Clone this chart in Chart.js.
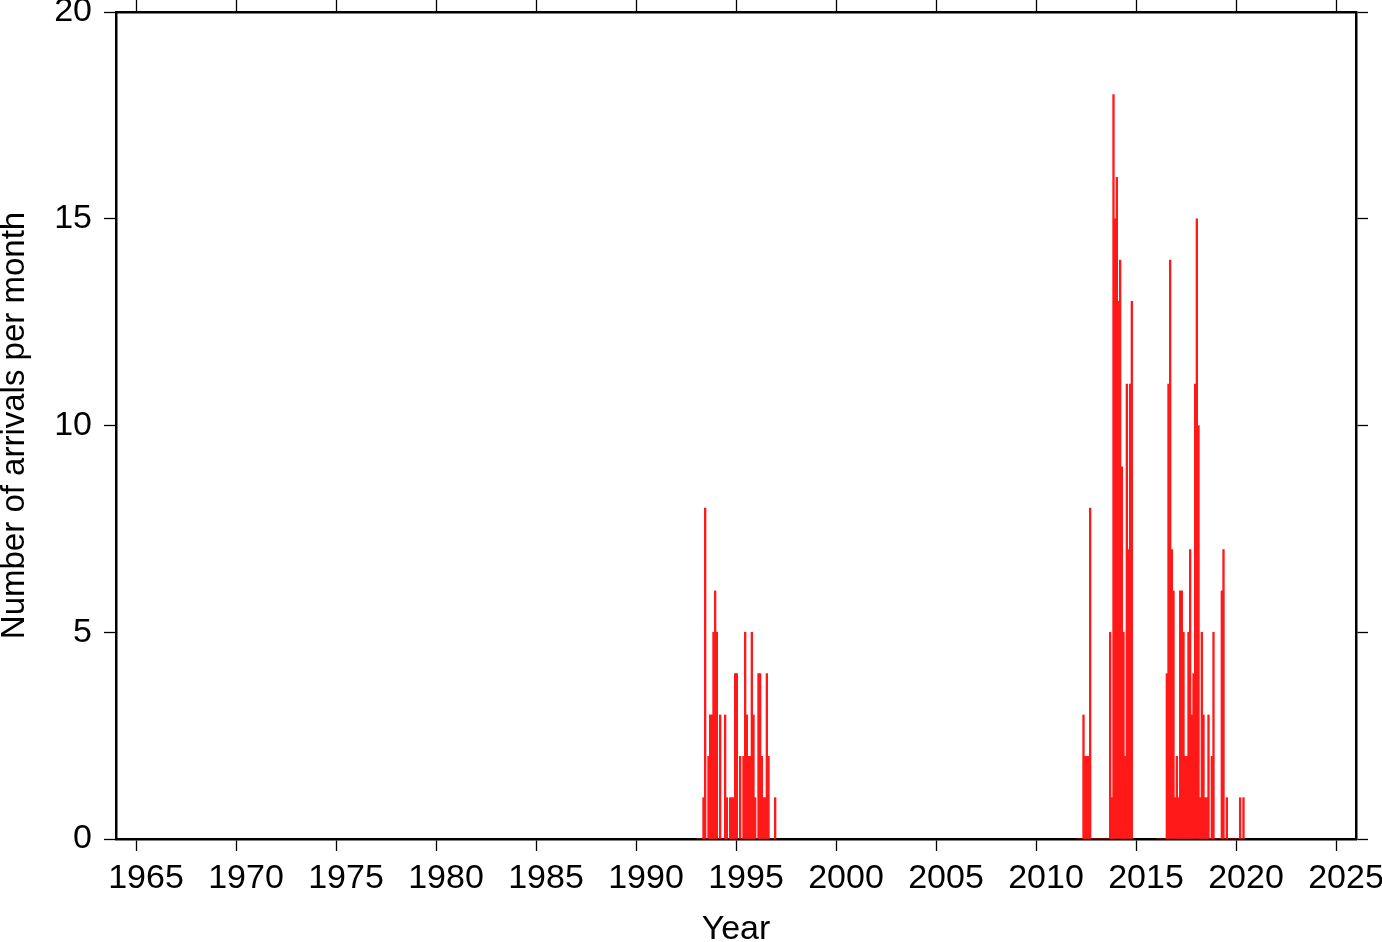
<!DOCTYPE html>
<html>
<head>
<meta charset="utf-8">
<script src="https://cdn.jsdelivr.net/npm/chart.js@4.4.1/dist/chart.umd.min.js"></script>
<style>
  html, body { margin: 0; padding: 0; background: #fff; }
  canvas { display: block; }
</style>
</head>
<body>
<canvas id="arrivalsChart" width="1382" height="942"></canvas>
<script>
// monthly arrival counts, each burst starts in January of its start year
const burst1Start = 1993;
const burst1Counts = [0, 0, 0, 0, 1, 8, 0, 2, 3, 3, 5, 6,
                      5, 0, 3, 0, 0, 3, 1, 0, 1, 1, 1, 4,
                      4, 0, 2, 0, 2, 5, 3, 2, 2, 5, 3, 1,
                      0, 4, 4, 2, 1, 1, 4, 2, 0, 0, 0, 1];

const burst2Start = 2012;
const burst2Counts = [0, 0, 0, 0, 3, 2, 2, 2, 8, 0, 0, 0,
                      0, 0, 0, 0, 0, 0, 0, 0, 5, 1, 18, 15,
                      16, 13, 14, 9, 5, 2, 11, 7, 11, 13];

const burst3Start = 2016;
const burst3Counts = [0, 0, 0, 0, 0, 0, 4, 11, 14, 7, 6, 1,
                      2, 1, 6, 6, 5, 2, 2, 5, 7, 3, 4, 11,
                      15, 10, 1, 5, 3, 1, 1, 3, 0, 2, 5, 0,
                      0, 0, 0, 6, 7, 0, 1, 0, 0, 0, 0, 0,
                      0, 0, 1, 0, 1];

const yearTicks = [1965, 1970, 1975, 1980, 1985, 1990, 1995, 2000, 2005, 2010, 2015, 2020, 2025];
const countTicks = [0, 5, 10, 15, 20];

function monthlyPoints(startYear, counts) {
    return counts.map((c, i) => ({ x: startYear + (i + 0.5) / 12, y: c }));
}

const points = []
    .concat(monthlyPoints(burst1Start, burst1Counts))
    .concat(monthlyPoints(burst2Start, burst2Counts))
    .concat(monthlyPoints(burst3Start, burst3Counts));

Chart.defaults.font.family = "'Liberation Sans', Arial, Helvetica, sans-serif";
Chart.defaults.font.size = 34;
Chart.defaults.color = "#000";

// pin the box sizes so the plot frame lands where the reference has it
function boxSize(size, horizontal) {
    return function (scale) {
        if (horizontal) scale.height = size; else scale.width = size;
        scale.paddingTop = 0;
        scale.paddingBottom = 0;
        scale.paddingLeft = 0;
        scale.paddingRight = 0;
    };
}

const tickGrid = {
    display: true,
    drawOnChartArea: false,
    drawTicks: true,
    tickLength: 12,
    tickWidth: 1.3,
    tickColor: "#000",
    offset: false,
};
const frame = { display: true, color: "#000", width: 2.5 };

function yearAxis(position, showLabels, size) {
    return {
        type: "linear",
        position: position,
        min: 1964,
        max: 2026,
        offset: false,
        afterBuildTicks: s => { s.ticks = yearTicks.map(v => ({ value: v })); },
        ticks: {
            display: showLabels,
            padding: 7,
            labelOffset: 10, // year labels sit mid-year, like the reference
            maxRotation: 0,
            autoSkip: false,
            callback: v => String(v),
        },
        grid: tickGrid,
        border: frame,
        title: {
            display: showLabels,
            text: "Year",
            padding: 0,
            font: { size: 34, lineHeight: 0.7 },
        },
        afterFit: boxSize(size, true),
    };
}

function countAxis(position, showLabels, size) {
    return {
        type: "linear",
        position: position,
        min: 0,
        max: 20,
        afterBuildTicks: s => { s.ticks = countTicks.map(v => ({ value: v })); },
        ticks: {
            display: showLabels,
            padding: 12,
            callback: v => String(v),
        },
        grid: tickGrid,
        border: frame,
        title: {
            display: showLabels,
            text: "Number of arrivals per month",
            padding: 0,
            font: { size: 33, lineHeight: 0.9 },
        },
        afterFit: boxSize(size, false),
    };
}

const ctx = document.getElementById("arrivalsChart").getContext("2d");
new Chart(ctx, {
    type: "bar",
    data: {
        datasets: [{
            data: points,
            xAxisID: "x",
            yAxisID: "y",
            backgroundColor: "rgb(255, 25, 25)",
            borderWidth: 0,
            barPercentage: 1,
            categoryPercentage: 1,
        }],
    },
    options: {
        responsive: false,
        animation: false,
        devicePixelRatio: 1,
        layout: { padding: 0 },
        plugins: {
            legend: { display: false },
            tooltip: { enabled: false },
        },
        scales: {
            x: yearAxis("bottom", true, 103),
            xTop: yearAxis("top", false, 12),
            y: countAxis("left", true, 116),
            yRight: countAxis("right", false, 26),
        },
    },
});
</script>
</body>
</html>
